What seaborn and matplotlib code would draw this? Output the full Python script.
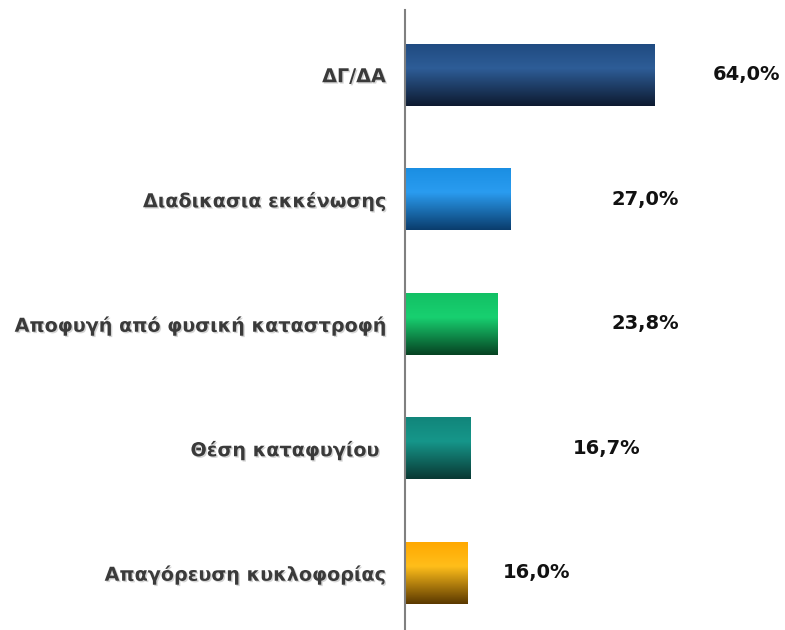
import numpy as np
import pandas as pd
import seaborn as sns
import matplotlib.pyplot as plt
import matplotlib.patheffects as pe
from matplotlib.colors import LinearSegmentedColormap

categories = ["ΔΓ/ΔΑ", "Διαδικασια εκκένωσης", "Αποφυγή από φυσική καταστροφή",
              "Θέση καταφυγίου ", "Απαγόρευση κυκλοφορίας"]
values = [64.0, 27.0, 23.8, 16.7, 16.0]
value_labels = ["64,0%", "27,0%", "23,8%", "16,7%", "16,0%"]

# gradient colours per bar: top, middle-light, bottom-dark
grads = [
    ["#1f4a80", "#2e5d97", "#0d1a30"],
    ["#1a8ee2", "#2a9cf0", "#0a3c6c"],
    ["#12c064", "#18d070", "#064222"],
    ["#11857a", "#16968a", "#093833"],
    ["#ffa800", "#ffbe1a", "#5a3800"],
]
label_x = [79, 53, 53, 43, 25]  # left edge of value labels (data units)

sns.set_style("white")
plt.rcParams['font.family'] = ['DejaVu Sans']

fig = plt.figure(figsize=(7.85, 6.3), dpi=100)
ax = fig.add_axes([0.516, 0.0, 0.484, 620 / 630])

df = pd.DataFrame({"cat": categories, "val": values})
sns.barplot(data=df, x="val", y="cat", ax=ax, width=0.5, color="white",
            edgecolor="none", orient="h")

for patch, g in zip(ax.patches, grads):
    x0, y0 = patch.get_x(), patch.get_y()
    w, h = patch.get_width(), patch.get_height()
    cmap = LinearSegmentedColormap.from_list("g", [(0, g[0]), (0.4, g[1]), (1, g[2])])
    grad = np.linspace(0, 1, 256).reshape(-1, 1)
    im = ax.imshow(grad, cmap=cmap, aspect="auto", extent=(x0, x0 + w, y0 + h, y0),
                   origin="upper", zorder=2)
    im.set_clip_path(patch)
ax.set_xlim(0, 97.4)
ax.set_ylim(4.46, -0.52)

for i, (lbl, lx) in enumerate(zip(value_labels, label_x)):
    ax.text(lx, i, lbl, ha="left", va="center", fontsize=14, fontweight="bold",
            color="#111111")

ax.set_xticks([])
ax.set_yticks(range(len(categories)))
ax.set_yticklabels(categories, fontsize=13.8, fontweight="bold", color="#3a3a3a")
for t in ax.get_yticklabels():
    t.set_path_effects([pe.withSimplePatchShadow(offset=(1, -1), shadow_rgbFace="#aaaaaa", alpha=0.5)])
ax.tick_params(axis="y", length=0, pad=14)
ax.set_xlabel("")
ax.set_ylabel("")
for s in ["top", "right", "bottom"]:
    ax.spines[s].set_visible(False)
ax.spines["left"].set_color("#808080")
ax.spines["left"].set_linewidth(1.5)

fig.savefig("out.png", dpi=100)
